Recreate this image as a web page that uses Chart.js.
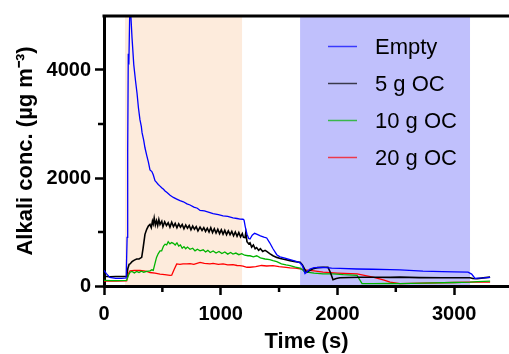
<!DOCTYPE html>
<html>
<head>
<meta charset="utf-8">
<script src="https://cdn.jsdelivr.net/npm/chart.js@4.4.0/dist/chart.umd.min.js"></script>
<style>
html, body { margin: 0; padding: 0; background: #fff; }
</style>
</head>
<body>
<canvas id="alkali-conc" width="509" height="354"></canvas>
<script>
/* time (s), concentration (ug m-3) */
const emptyData = [[0,290],[20,230],[50,160],[100,140],[150,140],[190,150],[198,900],[203,2500],[208,4300],[213,4100],[220,5000],[228,5100],[240,4600],[255,4100],[270,3800],[283,3570],[295,3300],[308,3080],[320,2950],[326,2840],[340,2700],[351,2560],[366,2420],[380,2300],[394,2150],[410,2120],[422,2060],[437,1950],[450,1920],[465,1880],[480,1850],[494,1820],[510,1790],[523,1760],[540,1730],[566,1680],[594,1640],[623,1610],[651,1580],[680,1560],[711,1520],[737,1500],[770,1460],[800,1440],[823,1400],[860,1390],[908,1360],[934,1340],[980,1320],[1020,1300],[1060,1290],[1105,1260],[1140,1250],[1165,1240],[1191,1236],[1200,1220],[1210,1100],[1225,960],[1240,880],[1251,870],[1270,940],[1290,975],[1308,960],[1340,930],[1370,905],[1394,890],[1420,800],[1448,690],[1480,580],[1508,540],[1550,515],[1594,490],[1640,460],[1680,430],[1700,380],[1722,230],[1737,260],[1765,315],[1800,340],[1877,345],[1950,330],[2022,325],[2168,315],[2300,310],[2451,303],[2536,300],[2733,274],[2900,265],[3000,262],[3119,256],[3150,220],[3179,140],[3200,145],[3250,150],[3308,160]];

const oc5Data = [[0,180],[50,170],[100,175],[150,175],[194,180],[205,330],[215,400],[223,409],[240,450],[260,480],[280,500],[300,500],[323,530],[335,700],[351,957],[366,1050],[380,1110],[394,1140],[405,1080],[415,1200],[422,1150],[430,1260],[440,1130],[450,1210],[460,1120],[470,1230],[480,1140],[495,1200],[505,1100],[520,1190],[535,1120],[550,1170],[565,1090],[580,1180],[595,1100],[610,1160],[625,1080],[640,1150],[655,1090],[670,1140],[685,1060],[700,1130],[715,1070],[730,1120],[745,1040],[760,1110],[775,1050],[790,1100],[805,1020],[823,1090],[840,1030],[855,1080],[870,1010],[885,1070],[900,1000],[915,1080],[930,990],[945,1060],[960,980],[975,1050],[990,970],[1005,1040],[1020,960],[1035,1030],[1050,950],[1065,1020],[1080,950],[1095,1010],[1110,930],[1125,1000],[1140,920],[1155,990],[1170,910],[1185,970],[1195,900],[1208,895],[1215,990],[1225,820],[1240,780],[1251,800],[1265,720],[1280,760],[1295,690],[1308,712],[1325,660],[1340,690],[1360,640],[1380,660],[1394,640],[1420,600],[1448,560],[1480,530],[1510,510],[1550,490],[1594,470],[1640,450],[1680,438],[1700,390],[1722,300],[1737,256],[1765,290],[1791,318],[1830,340],[1877,347],[1919,347],[1940,250],[1962,117],[1990,140],[2022,153],[2100,158],[2200,162],[2300,163],[2451,160],[2536,164],[2700,155],[2900,153],[3136,153],[3160,140],[3196,135],[3250,150],[3308,164]];

const oc10Data = [[0,104],[60,100],[120,100],[194,104],[210,200],[223,256],[240,270],[260,240],[280,270],[300,250],[320,275],[340,255],[366,270],[394,280],[410,300],[422,290],[437,420],[450,530],[465,600],[480,650],[494,652],[510,740],[523,774],[537,760],[550,820],[565,780],[580,804],[594,790],[610,760],[625,800],[640,740],[655,760],[670,700],[685,730],[700,690],[715,720],[737,680],[760,700],[780,650],[800,680],[823,652],[850,670],[870,630],[890,660],[910,620],[935,650],[960,610],[985,640],[1010,600],[1035,630],[1060,590],[1085,620],[1105,591],[1130,610],[1155,580],[1180,600],[1205,570],[1234,560],[1251,560],[1280,540],[1308,560],[1340,520],[1380,500],[1420,490],[1448,470],[1480,450],[1520,410],[1560,390],[1594,378],[1640,350],[1680,330],[1700,300],[1722,256],[1737,256],[1800,240],[1877,226],[1962,226],[2050,210],[2168,196],[2211,44],[2300,44],[2451,50],[2536,44],[2733,55],[3000,65],[3136,73],[3200,80],[3308,91]];

const oc20Data = [[0,90],[100,90],[194,95],[208,226],[223,280],[260,287],[308,287],[340,280],[366,270],[394,250],[437,240],[480,220],[520,210],[566,196],[580,200],[600,300],[623,409],[651,400],[677,409],[709,410],[737,415],[770,400],[823,438],[860,420],[908,410],[934,420],[980,400],[1020,410],[1060,390],[1105,395],[1140,380],[1165,378],[1191,370],[1225,347],[1251,347],[1300,360],[1350,380],[1394,370],[1448,378],[1500,360],[1560,345],[1594,336],[1640,330],[1680,318],[1722,300],[1800,280],[1877,256],[2000,240],[2168,226],[2305,164],[2400,110],[2451,73],[2536,44],[2733,55],[3000,65],[3136,73],[3308,73]];

const seriesLabels = ['Empty', '5 g OC', '10 g OC', '20 g OC'];

/* shaded periods (s) */
const shadeStart = [180, 1680];
const shadeEnd = [1183, 3136];

const xMajorTicks = [0, 1000, 2000, 3000];
const yMajorTicks = [0, 2000, 4000];
const xMinorTicks = [500, 1500, 2500];
const yMinorTicks = [1000, 3000];

const FONT = 'Liberation Sans, Arial, Helvetica, sans-serif';

const shadePlugin = {
    id: 'shade',
    beforeDraw(chart) {
        const ctx = chart.ctx;
        const a = chart.chartArea;
        const x = chart.scales.x;
        const cols = ['#fdebdc', '#c0c0fc'];
        ctx.save();
        for (let i = 0; i < shadeStart.length; i++) {
            const x0 = x.getPixelForValue(shadeStart[i]);
            const x1 = x.getPixelForValue(shadeEnd[i]);
            ctx.fillStyle = cols[i];
            ctx.fillRect(x0, a.top, x1 - x0, a.bottom - a.top);
        }
        ctx.restore();
    }
};

const frameLegendPlugin = {
    id: 'frameLegend',
    afterDatasetsDraw(chart) {
        const ctx = chart.ctx;
        const a = chart.chartArea;
        const xs = chart.scales.x, ys = chart.scales.y;
        ctx.save();
        // top line
        ctx.strokeStyle = '#000';
        ctx.lineWidth = 3;
        ctx.beginPath();
        ctx.moveTo(a.left - 1.5, a.top);
        ctx.lineTo(a.right, a.top);
        ctx.stroke();

        // minor ticks
        ctx.lineWidth = 2.5;
        xMinorTicks.forEach(v => {
            const px = xs.getPixelForValue(v);
            ctx.beginPath();
            ctx.moveTo(px, a.bottom);
            ctx.lineTo(px, a.bottom + 6);
            ctx.stroke();
        });
        yMinorTicks.forEach(v => {
            const py = ys.getPixelForValue(v);
            ctx.beginPath();
            ctx.moveTo(a.left, py);
            ctx.lineTo(a.left - 6, py);
            ctx.stroke();
        });

        // legend inside the plot
        ctx.font = '22px ' + FONT;
        ctx.textBaseline = 'middle';
        chart.data.datasets.forEach((ds, i) => {
            const y = a.top + 30.5 + i * 37;
            ctx.globalAlpha = 0.7;
            ctx.strokeStyle = ds.borderColor;
            ctx.lineWidth = 1.5;
            ctx.beginPath();
            ctx.moveTo(328, y);
            ctx.lineTo(357, y);
            ctx.stroke();
            ctx.globalAlpha = 1;
            ctx.fillStyle = '#000';
            ctx.fillText(ds.label, 375, y + 1);
        });
        ctx.restore();
    }
};

const ctx_alkali = document.getElementById('alkali-conc').getContext('2d');
const alkaliChart = new Chart(ctx_alkali, {
    type: 'line',
    data: {
        datasets: [{
            label: seriesLabels[0],
            data: emptyData,
            borderColor: '#0000ff',
            borderWidth: 1.3
        }, {
            label: seriesLabels[1],
            data: oc5Data,
            borderColor: '#000000',
            borderWidth: 1.6
        }, {
            label: seriesLabels[2],
            data: oc10Data,
            borderColor: '#00b400',
            borderWidth: 1.3
        }, {
            label: seriesLabels[3],
            data: oc20Data,
            borderColor: '#ff0000',
            borderWidth: 1.3
        }]
    },
    options: {
        responsive: false,
        animation: false,
        devicePixelRatio: 1,
        pointRadius: 0,
        tension: 0,
        layout: {
            padding: { top: 14, right: 0, left: 0, bottom: 0 }
        },
        plugins: {
            legend: { display: false },
            tooltip: { enabled: false }
        },
        scales: {
            x: {
                type: 'linear',
                min: 0,
                max: 3470,
                afterBuildTicks(scale) { scale.ticks = xMajorTicks.map(v => ({ value: v })); },
                afterFit(scale) { scale.height = 68; },
                border: { color: '#000', width: 3 },
                grid: {
                    drawOnChartArea: false,
                    tickLength: 9,
                    tickWidth: 2.5,
                    tickColor: '#000'
                },
                ticks: {
                    maxRotation: 0,
                    autoSkip: false,
                    padding: 7,
                    color: '#000',
                    callback: v => String(v),
                    font: { family: FONT, size: 20, weight: 'bold' }
                },
                title: {
                    display: true,
                    text: 'Time (s)',
                    color: '#000',
                    padding: { top: 0, bottom: 1 },
                    font: { family: FONT, size: 22, weight: 'bold', lineHeight: 1 }
                }
            },
            y: {
                min: 0,
                max: 5000,
                afterBuildTicks(scale) { scale.ticks = yMajorTicks.map(v => ({ value: v })); },
                afterFit(scale) { scale.width = 104; },
                border: { color: '#000', width: 3 },
                grid: {
                    drawOnChartArea: false,
                    tickLength: 9,
                    tickWidth: 2.5,
                    tickColor: '#000'
                },
                ticks: {
                    autoSkip: false,
                    padding: 4,
                    color: '#000',
                    callback: v => String(v),
                    font: { family: FONT, size: 20, weight: 'bold' }
                },
                title: {
                    display: true,
                    text: 'Alkali conc. (µg m⁻³)',
                    color: '#000',
                    padding: { top: 15, bottom: 0 },
                    font: { family: FONT, size: 22, weight: 'bold', lineHeight: 1 }
                }
            }
        }
    },
    plugins: [shadePlugin, frameLegendPlugin]
});
</script>
</body>
</html>
